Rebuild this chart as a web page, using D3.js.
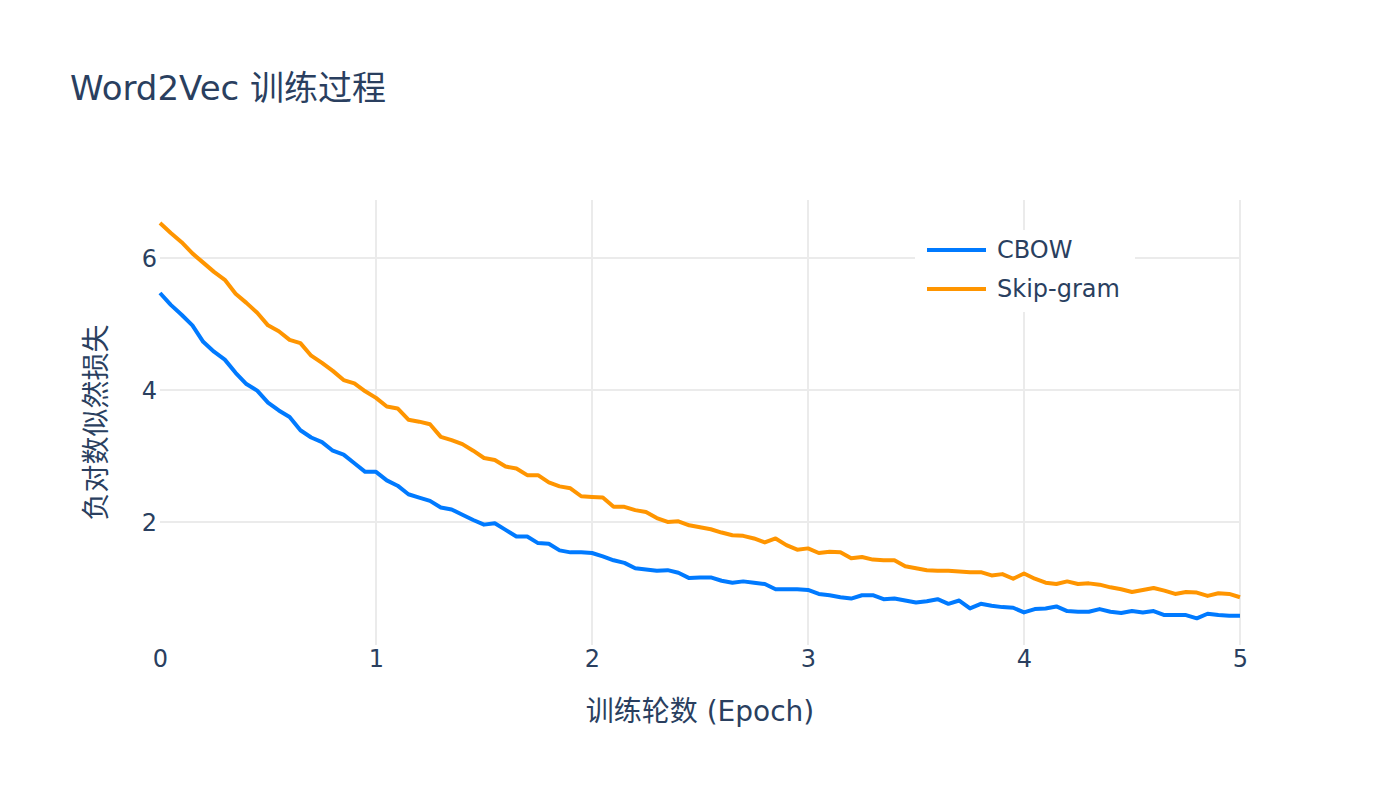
<!DOCTYPE html>
<html>
<head>
<meta charset="utf-8">
<script src="https://cdn.jsdelivr.net/npm/d3@7"></script>
<style>
  body { margin: 0; background: #fff; }
  svg text { font-family: Verdana, "DejaVu Sans", "Noto Sans CJK SC", sans-serif; fill: #2a3f5f; }
</style>
</head>
<body>
<svg id="chart" width="1400" height="800"></svg>
<script>
// loss per epoch step (0.05)
const cbow = [5.47,5.29,5.14,4.98,4.73,4.58,4.46,4.26,4.09,3.99,
  3.81,3.69,3.59,3.39,3.28,3.21,3.08,3.02,2.89,2.76,
  2.76,2.63,2.55,2.42,2.37,2.32,2.22,2.19,2.11,2.03,
  1.96,1.98,1.88,1.78,1.78,1.68,1.67,1.57,1.54,1.54,
  1.53,1.48,1.42,1.38,1.30,1.28,1.26,1.27,1.23,1.15,
  1.16,1.16,1.11,1.08,1.10,1.08,1.06,0.98,0.98,0.98,
  0.97,0.91,0.89,0.86,0.84,0.89,0.89,0.83,0.84,0.81,
  0.78,0.80,0.83,0.76,0.81,0.69,0.76,0.73,0.71,0.70,
  0.63,0.68,0.69,0.72,0.65,0.64,0.64,0.68,0.64,0.62,
  0.65,0.63,0.65,0.59,0.59,0.59,0.54,0.61,0.59,0.58,0.58];
const skipgram = [6.53,6.38,6.24,6.07,5.93,5.79,5.67,5.46,5.32,5.17,
  4.98,4.89,4.76,4.71,4.52,4.41,4.29,4.15,4.10,3.98,
  3.88,3.75,3.72,3.55,3.52,3.48,3.29,3.24,3.18,3.08,
  2.97,2.94,2.84,2.81,2.71,2.71,2.60,2.54,2.51,2.39,
  2.38,2.37,2.23,2.23,2.18,2.15,2.06,2.00,2.01,1.95,
  1.92,1.89,1.84,1.80,1.79,1.75,1.69,1.75,1.65,1.58,
  1.60,1.53,1.55,1.54,1.45,1.47,1.43,1.42,1.42,1.33,
  1.30,1.27,1.26,1.26,1.25,1.24,1.24,1.19,1.21,1.14,
  1.22,1.14,1.08,1.06,1.10,1.06,1.07,1.05,1.01,0.98,
  0.94,0.97,1.00,0.96,0.91,0.94,0.93,0.88,0.92,0.91,0.86];
const epochs = cbow.map((d, i) => i * 0.05);
const seriesNames = ["CBOW", "Skip-gram"];
const seriesColors = ["#007AFF", "#FF9500"];
const xTicks = [0, 1, 2, 3, 4, 5];
const yTicks = [2, 4, 6];

const svg = d3.select("#chart");
const plotL = 160, plotR = 1240, plotT = 200, plotB = 645;

const xScale = d3.scaleLinear().domain([0, 5]).range([plotL, plotR]);
const yScale = d3.scaleLinear().domain([0.136, 6.879]).range([plotB, plotT]);

// grid
svg.append("g").selectAll("line").data(xTicks.filter(t => t > 0)).join("line")
  .attr("x1", d => xScale(d)).attr("x2", d => xScale(d))
  .attr("y1", plotT).attr("y2", plotB)
  .attr("stroke", "#ebebeb").attr("stroke-width", 2);
svg.append("g").selectAll("line").data(yTicks).join("line")
  .attr("x1", plotL).attr("x2", plotR)
  .attr("y1", d => yScale(d)).attr("y2", d => yScale(d))
  .attr("stroke", "#ebebeb").attr("stroke-width", 2);

// tick labels
const xAxis = svg.append("g").attr("transform", `translate(0,${plotB})`)
  .call(d3.axisBottom(xScale).tickValues(xTicks).tickFormat(d3.format("d")).tickSize(0).tickPadding(22));
const yAxis = svg.append("g").attr("transform", `translate(${plotL},0)`)
  .call(d3.axisLeft(yScale).tickValues(yTicks).tickFormat(d3.format("d")).tickSize(0).tickPadding(3));
[xAxis, yAxis].forEach(ax => {
  ax.select(".domain").remove();
  ax.selectAll("text").attr("font-size", 24).style("font-family", null).attr("fill", "#2a3f5f");
});
yAxis.selectAll("text").attr("dy", "0.35em");
xAxis.selectAll("text").attr("dy", "0");

// lines
const lineGen = d3.line().x((d, i) => xScale(epochs[i])).y(d => yScale(d));
[cbow, skipgram].forEach((s, k) => {
  svg.append("path").datum(s)
    .attr("d", lineGen)
    .attr("fill", "none")
    .attr("stroke", seriesColors[k])
    .attr("stroke-width", 4)
    .attr("stroke-linejoin", "round");
});

// titles
svg.append("text").attr("x", 70).attr("y", 100)
  .attr("font-size", 34).text("Word2Vec 训练过程");
svg.append("text").attr("x", (plotL + plotR) / 2).attr("y", 721)
  .attr("text-anchor", "middle").attr("font-size", 28).text("训练轮数 (Epoch)");
svg.append("text")
  .attr("transform", `translate(106,${(plotT + plotB) / 2}) rotate(-90)`)
  .attr("text-anchor", "middle").attr("font-size", 28).text("负对数似然损失");

// legend
const legend = svg.append("g").attr("transform", "translate(915,230)");
legend.append("rect").attr("width", 220).attr("height", 82).attr("fill", "#fff");
seriesNames.forEach((name, k) => {
  const y = 20 + k * 39;
  legend.append("line").attr("x1", 12).attr("x2", 71).attr("y1", y).attr("y2", y)
    .attr("stroke", seriesColors[k]).attr("stroke-width", 4);
  legend.append("text").attr("x", 82).attr("y", y).attr("dy", "0.35em")
    .attr("font-size", 24).text(name);
});
</script>
</body>
</html>
